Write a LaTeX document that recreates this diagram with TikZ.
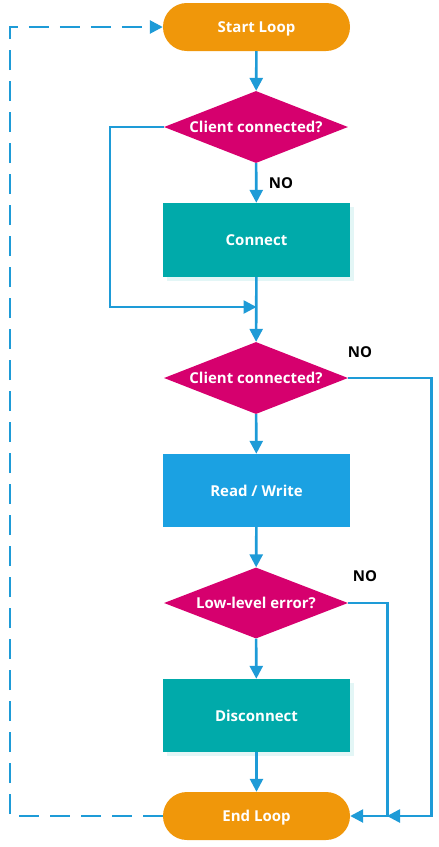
\documentclass[tikz,border=0pt]{standalone}
\usepackage{fontspec}
\setmainfont{Open Sans}
\usetikzlibrary{arrows.meta,shapes.geometric}
\definecolor{cOrange}{HTML}{F0970A}
\definecolor{cMag}{HTML}{D6006E}
\definecolor{cTeal}{HTML}{00AAAA}
\definecolor{cBlue}{HTML}{1BA1E2}
\definecolor{cLine}{HTML}{1E9BD7}
\definecolor{cShadow}{HTML}{E3F6F6}
\tikzset{
  every node/.style={font=\bfseries\fontsize{15}{17}\selectfont, text=white, text height=13pt, text depth=2pt},
  term/.style={rectangle, rounded corners=23.9pt, fill=cOrange, minimum width=187pt, minimum height=48pt, inner sep=0pt},
  proc/.style={rectangle, minimum width=187pt, minimum height=74pt, inner sep=0pt},
  tealbox/.style={proc, fill=cTeal},
  bluebox/.style={proc, fill=cBlue},
  decis/.style={diamond, aspect=2.55, fill=cMag, minimum width=184pt, minimum height=72pt, inner sep=0pt},
  shadowbox/.style={fill=cShadow, draw=none},
  conn/.style={draw=cLine, line width=2.6pt, -{Triangle[length=13pt,width=13pt]}},
  dashconn/.style={conn, dash pattern=on 20pt off 11pt},
  lbl/.style={text=black, inner sep=0pt},
}
\begin{document}
\begin{tikzpicture}[x=1pt,y=-1pt]
\useasboundingbox (0,0) rectangle (439,847);
% shadows
\fill[shadowbox] (167,207) rectangle (354,281);
\fill[shadowbox] (167,683) rectangle (354,756);
\node[term] (start) at (256.5,27) {Start Loop};
\node[decis] (d1) at (256,127) {Client connected?};
\node[tealbox] (connect) at (256.5,240) {Connect};
\coordinate (m) at (256.5,307);
\node[decis] (d2) at (256,378) {Client connected?};
\node[bluebox, minimum height=73pt] (rw) at (256.5,490.5) {Read / Write};
\node[decis, minimum height=71pt] (d3) at (256,603) {Low-level error?};
\node[tealbox, minimum height=73pt] (disc) at (256.5,715.5) {Disconnect};
\node[term] (end) at (256.5,816) {End Loop};
\coordinate (j2) at (387,816);
% labels
\node[lbl] (no1) at (281,183) {NO};
\node[lbl] (no2) at (360,352) {NO};
\node[lbl] (no3) at (365,576) {NO};
% connectors
\draw[conn] (start) -- (d1);
\draw[conn] (d1) -- (connect);
\draw[conn] (d1.west) -- ++(-54,0) |- (m);
\draw[conn] (connect) -- (d2);
\draw[conn] (d2) -- (rw);
\draw[conn] (rw) -- (d3);
\draw[conn] (d3) -- (disc);
\draw[conn] (disc) -- (end);
\draw[conn] (d3.east) -- ++(39,0) |- (end.east);
\draw[conn] (d2.east) -- ++(83,0) |- (j2);
\draw[dashconn] (end.west) -- ++(-153,0) |- (start.west);
\end{tikzpicture}
\end{document}
